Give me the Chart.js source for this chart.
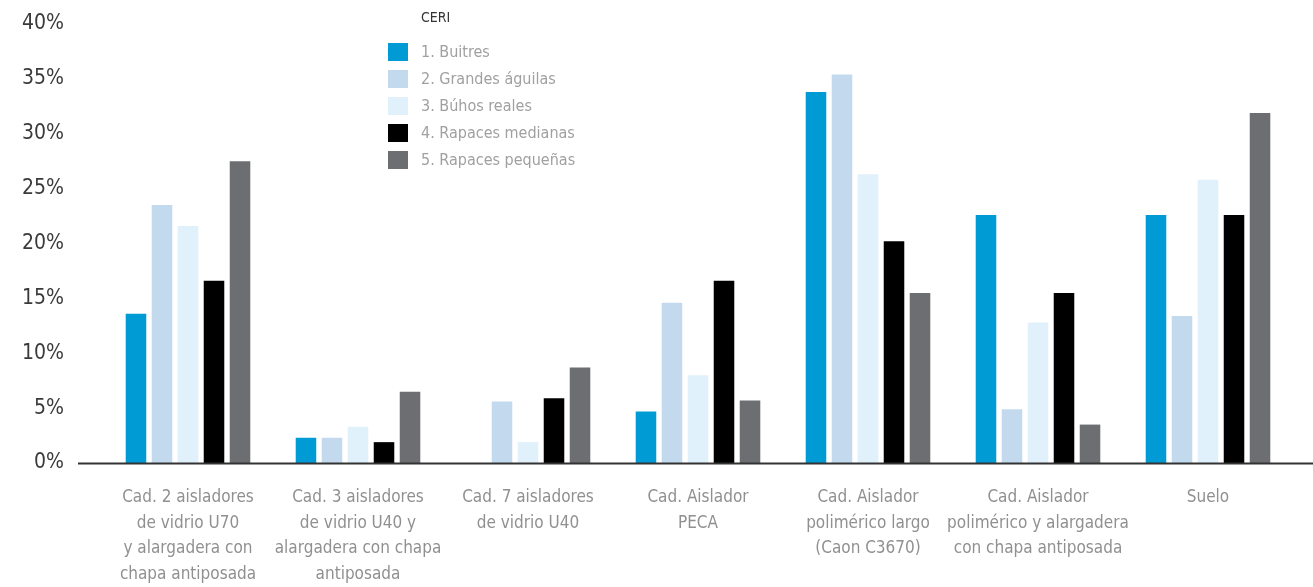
<!DOCTYPE html>
<html lang="es">
<head>
<meta charset="utf-8">
<title>CERI por tipo de apoyo</title>
<script src="https://cdn.jsdelivr.net/npm/chart.js@4/dist/chart.umd.min.js"></script>
<style>
  html, body { margin: 0; padding: 0; background: #fff; }
  #wrap { position: relative; width: 1313px; height: 587px; }
  #legend { position: absolute; left: 388px; top: 7px; font-family: "DejaVu Sans Condensed", sans-serif; }
  #legend .title { font-size: 14px; color: #333; margin-left: 33px; height: 31px; line-height: 20px; }
  #legend .row { display: flex; align-items: center; height: 27px; font-size: 16px; color: #a0a0a0; }
  #legend .sw { width: 20px; height: 18px; margin-right: 13px; }
</style>
</head>
<body>
<div id="wrap">
  <canvas id="chart" width="1313" height="587"></canvas>
  <div id="legend"></div>
</div>
<script>
const categories = [
  ['Cad. 2 aisladores', 'de vidrio U70', 'y alargadera con', 'chapa antiposada'],
  ['Cad. 3 aisladores', 'de vidrio U40 y', 'alargadera con chapa', 'antiposada'],
  ['Cad. 7 aisladores', 'de vidrio U40'],
  ['Cad. Aislador', 'PECA'],
  ['Cad. Aislador', 'polimérico largo', '(Caon C3670)'],
  ['Cad. Aislador', 'polimérico y alargadera', 'con chapa antiposada'],
  ['Suelo']
];

const seriesNames = ['1. Buitres', '2. Grandes águilas', '3. Búhos reales', '4. Rapaces medianas', '5. Rapaces pequeñas'];
const seriesColors = ['#009bd4', '#c3daee', '#e0f1fb', '#000000', '#6d6e72'];

const buitres = [13.6, 2.3, 0, 4.7, 33.8, 22.6, 22.6];
const grandesAguilas = [23.5, 2.3, 5.6, 14.6, 35.4, 4.9, 13.4];
const buhosReales = [21.6, 3.3, 1.9, 8.0, 26.3, 12.8, 25.8];
const rapacesMedianas = [16.6, 1.9, 5.9, 16.6, 20.2, 15.5, 22.6];
const rapacesPequenas = [27.5, 6.5, 8.7, 5.7, 15.5, 3.5, 31.9];

const yTicks = [0, 5, 10, 15, 20, 25, 30, 35, 40];

const allSeries = [buitres, grandesAguilas, buhosReales, rapacesMedianas, rapacesPequenas];

const font = '"DejaVu Sans Condensed", sans-serif';

// baseline runs a little past the plot area on both sides
const baseline = {
  id: 'baseline',
  afterDatasetsDraw(chart) {
    const { ctx, chartArea, scales } = chart;
    const y = Math.round(scales.y.getPixelForValue(0)) + 0.5;
    ctx.save();
    ctx.strokeStyle = '#333';
    ctx.lineWidth = 2;
    ctx.beginPath();
    ctx.moveTo(chartArea.left - 25, y);
    ctx.lineTo(chartArea.right + 20, y);
    ctx.stroke();
    ctx.restore();
  }
};

new Chart(document.getElementById('chart'), {
  type: 'bar',
  data: {
    labels: categories,
    datasets: allSeries.map((data, i) => ({
      label: seriesNames[i],
      data,
      backgroundColor: seriesColors[i],
      borderWidth: 0,
      categoryPercentage: 0.765,
      barPercentage: 0.79
    }))
  },
  options: {
    responsive: false,
    animation: false,
    layout: { padding: { top: 24, right: 20, left: 0, bottom: 0 } },
    plugins: { legend: { display: false }, tooltip: { enabled: false } },
    scales: {
      x: {
        grid: { display: false, drawTicks: false },
        border: { display: false },
        ticks: { color: '#909090', font: { family: font, size: 17, lineHeight: 1.5 }, padding: 22, maxRotation: 0, autoSkip: false },
        afterFit(scale) { scale.height = 124; }
      },
      y: {
        min: 0,
        max: 40,
        grid: { display: false, drawTicks: false },
        border: { display: false },
        afterBuildTicks(scale) { scale.ticks = yTicks.map(v => ({ value: v })); },
        ticks: { color: '#3a3a3a', font: { family: font, size: 21 }, padding: 39, callback: v => v + '%' },
        afterFit(scale) {
          scale.width = 103;
          // tick padding is horizontal here; keep it out of the vertical layout
          scale.paddingTop = 0;
          scale.paddingBottom = 0;
        }
      }
    }
  },
  plugins: [baseline]
});

const legend = document.getElementById('legend');
legend.innerHTML = '<div class="title">CERI</div>' + seriesNames.map((name, i) =>
  `<div class="row"><span class="sw" style="background:${seriesColors[i]}"></span>${name}</div>`
).join('');
</script>
</body>
</html>
